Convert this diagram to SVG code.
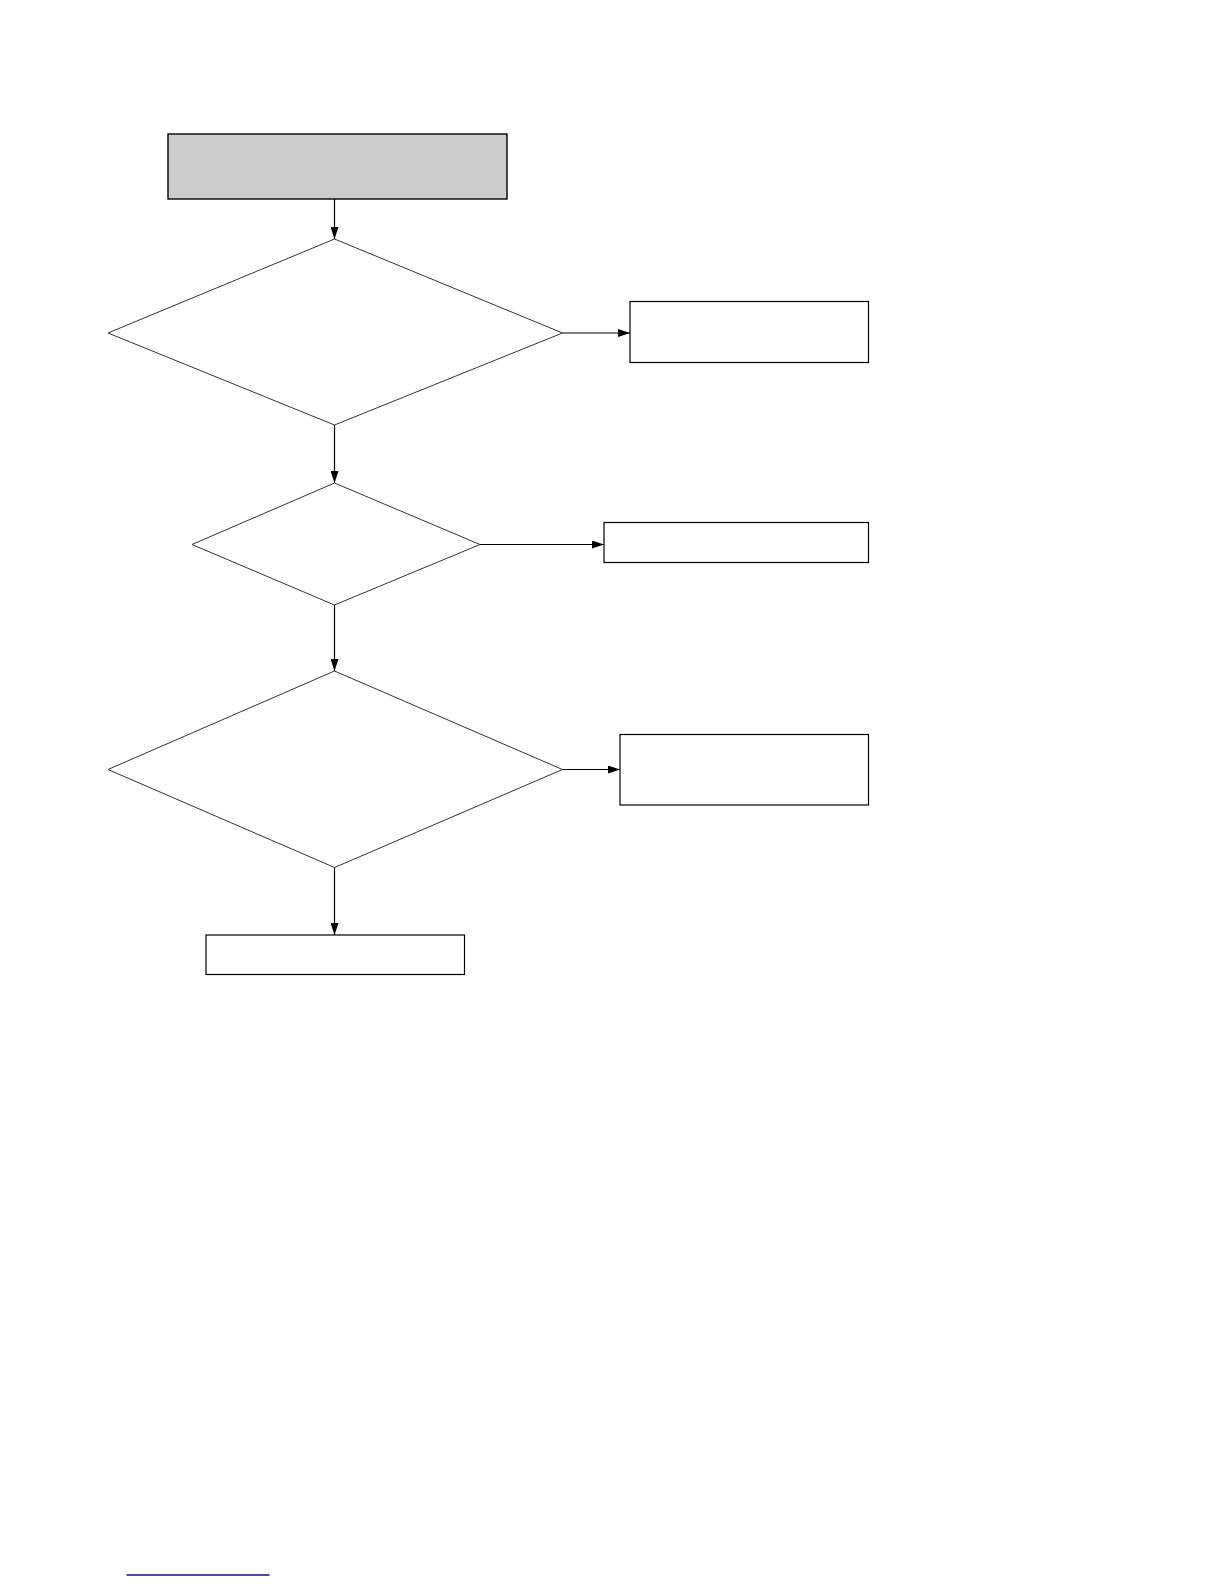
<svg xmlns="http://www.w3.org/2000/svg" width="1224" height="1584" viewBox="0 0 1224 1584">
<style>
.box{fill:#ffffff;stroke:#000000;stroke-width:1.2}
.start{fill:#cccccc;stroke:#000000;stroke-width:1.4}
.dia{fill:#ffffff;stroke:#333333;stroke-width:1}
.edge{fill:none;stroke:#000000;stroke-width:1.2}
</style>
<defs>
<marker id="arr" markerWidth="12" markerHeight="8" refX="12" refY="4" orient="auto" markerUnits="userSpaceOnUse">
<path d="M0,0 L12,4 L0,8 Z" fill="#000000"/>
</marker>
</defs>
<rect width="1224" height="1584" fill="#ffffff"/>
<g id="start"><rect class="start" x="168" y="134" width="339" height="65"/></g>
<g id="decision1"><polygon class="dia" points="334.5,239 562.5,333 334.5,425 108,333"/></g>
<g id="box1"><rect class="box" x="630" y="301.5" width="238.5" height="61"/></g>
<g id="decision2"><polygon class="dia" points="334.5,483 480,544.5 334.5,605 192,544.5"/></g>
<g id="box2"><rect class="box" x="604" y="522.5" width="264.5" height="40"/></g>
<g id="decision3"><polygon class="dia" points="334.5,671 562.5,769.5 334.5,867.5 108,769.5"/></g>
<g id="box3"><rect class="box" x="620" y="734.5" width="248.5" height="70.5"/></g>
<g id="end"><rect class="box" x="206" y="935" width="258.5" height="39.5"/></g>
<g id="connectors">
<line class="edge" x1="334.5" y1="199" x2="334.5" y2="239" marker-end="url(#arr)"/>
<line class="edge" x1="562.5" y1="333" x2="630" y2="333" marker-end="url(#arr)"/>
<line class="edge" x1="334.5" y1="425" x2="334.5" y2="483" marker-end="url(#arr)"/>
<line class="edge" x1="480" y1="544.5" x2="604" y2="544.5" marker-end="url(#arr)"/>
<line class="edge" x1="334.5" y1="605" x2="334.5" y2="671" marker-end="url(#arr)"/>
<line class="edge" x1="562.5" y1="769.5" x2="620" y2="769.5" marker-end="url(#arr)"/>
<line class="edge" x1="334.5" y1="867.5" x2="334.5" y2="935" marker-end="url(#arr)"/>
</g>
<line x1="126.5" y1="1575" x2="269.5" y2="1575" stroke="#10107a" stroke-width="1.5"/>
</svg>
